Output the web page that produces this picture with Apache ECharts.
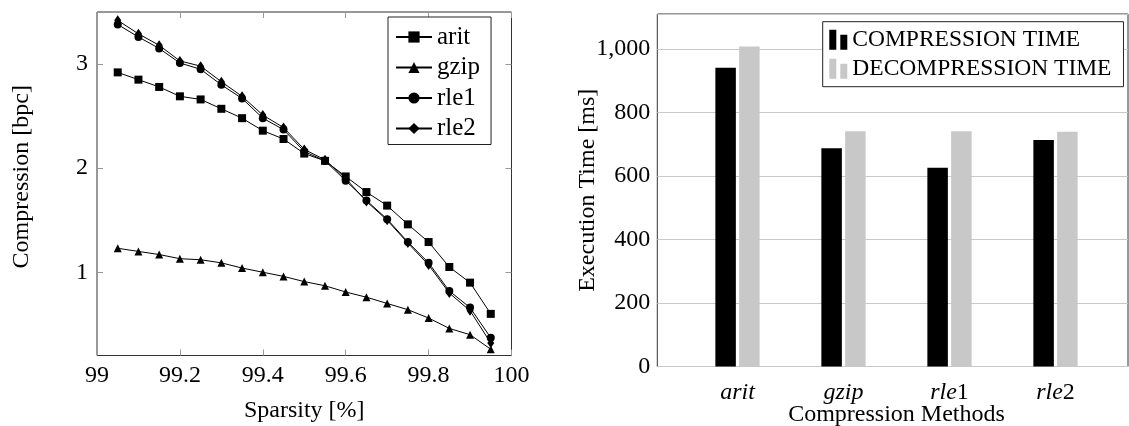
<!DOCTYPE html>
<html>
<head>
<meta charset="utf-8">
<script src="https://cdn.jsdelivr.net/npm/echarts@6/dist/echarts.min.js"></script>
<style>
  html, body { margin: 0; padding: 0; background: #fff; }
  #chart { width: 1129px; height: 426px; }
</style>
</head>
<body>
<div id="chart"></div>
<script>
// 左图：稀疏度 vs 压缩率
const sparsity = [99.05, 99.10, 99.15, 99.20, 99.25, 99.30, 99.35, 99.40, 99.45, 99.50,
  99.55, 99.60, 99.65, 99.70, 99.75, 99.80, 99.85, 99.90, 99.95]
const arit = [2.92, 2.85, 2.78, 2.69, 2.66, 2.57, 2.48, 2.36, 2.28, 2.14, 2.07, 1.92, 1.77, 1.64, 1.46, 1.29, 1.05, 0.90, 0.60]
const gzip = [1.23, 1.20, 1.17, 1.13, 1.12, 1.09, 1.04, 1.00, 0.96, 0.91, 0.87, 0.81, 0.76, 0.70, 0.64, 0.56, 0.46, 0.40, 0.26]
const rle1 = [3.38, 3.26, 3.15, 3.01, 2.95, 2.80, 2.67, 2.48, 2.37, 2.16, 2.07, 1.88, 1.69, 1.51, 1.29, 1.09, 0.82, 0.66, 0.37]
const rle2 = [3.42, 3.29, 3.18, 3.03, 2.98, 2.83, 2.69, 2.51, 2.39, 2.18, 2.08, 1.90, 1.68, 1.50, 1.28, 1.07, 0.80, 0.63, 0.32]
const xTicks = [99, 99.2, 99.4, 99.6, 99.8, 100]
const yTicks = [1, 2, 3]

// 右图：执行时间
const methods = ['arit', 'gzip', 'rle1', 'rle2']
const compressionTime = [941, 687, 626, 713]
const decompressionTime = [1008, 741, 741, 739]

const FONT = "'Liberation Serif', 'Times New Roman', serif"
const tickStyle = { inside: true, length: 6, lineStyle: { color: '#999' } }

const toPairs = (ys) => sparsity.map((x, i) => [x, ys[i]])

const lineSeries = (name, data, symbol, size) => ({
  name,
  type: 'line',
  xAxisIndex: 0,
  yAxisIndex: 0,
  data: toPairs(data),
  symbol,
  symbolSize: size,
  showSymbol: true,
  color: '#000',
  lineStyle: { width: 1, color: '#000' },
  itemStyle: { color: '#000' }
})

const chart = echarts.init(document.getElementById('chart'))
chart.setOption({
  animation: false,
  textStyle: { fontFamily: FONT },
  grid: [
    { left: 97, top: 12, width: 414.5, height: 343.5, show: true, borderColor: '#333', borderWidth: 1, outerBoundsMode: 'none' },
    { left: 657.3, top: 14, width: 470.7, height: 352.5, show: true, borderColor: '#333', borderWidth: 1, outerBoundsMode: 'none' },
    { left: 684.5, top: 14, width: 424, height: 352.5, outerBoundsMode: 'none' }
  ],
  legend: [
    {
      data: ['arit', 'gzip', 'rle1', 'rle2'],
      orient: 'vertical',
      left: 388,
      top: 17,
      itemWidth: 36,
      itemHeight: 14,
      itemGap: 4.5,
      padding: [7, 11, 3, 7],
      backgroundColor: '#fff',
      borderColor: '#222',
      borderWidth: 1,
      textStyle: { fontFamily: FONT, fontSize: 25, lineHeight: 26, color: '#000' }
    },
    {
      data: ['COMPRESSION TIME', 'DECOMPRESSION TIME'],
      orient: 'vertical',
      left: 822.7,
      top: 21.7,
      itemWidth: 18,
      itemHeight: 20,
      itemGap: 5,
      padding: [6, 12, 6, 6.6],
      backgroundColor: '#fff',
      borderColor: '#222',
      borderWidth: 1,
      icon: 'path://M0,0H7V20H0Z M11,5H18V20H11Z',
      textStyle: { fontFamily: FONT, fontSize: 23.5, lineHeight: 24, color: '#000' }
    }
  ],
  xAxis: [
    {
      type: 'value', gridIndex: 0, position: 'bottom', min: 99, max: 100,
      axisLine: { show: false },
      axisTick: Object.assign({ customValues: xTicks }, tickStyle),
      axisLabel: { customValues: xTicks, fontFamily: FONT, fontSize: 24, color: '#000', margin: 8 },
      splitLine: { show: false },
      name: 'Sparsity [%]', nameLocation: 'middle', nameGap: 43, nameMoveOverlap: false,
      nameTextStyle: { fontFamily: FONT, fontSize: 24, color: '#000' }
    },
    {
      type: 'value', gridIndex: 0, position: 'top', min: 99, max: 100,
      axisLine: { show: false },
      axisTick: Object.assign({ customValues: xTicks }, tickStyle),
      axisLabel: { show: false },
      splitLine: { show: false }
    },
    {
      type: 'value', gridIndex: 1, show: false, min: 0, max: 1
    },
    {
      type: 'category', gridIndex: 2, data: methods,
      axisLine: { show: false },
      axisTick: { show: false },
      axisLabel: {
        margin: 14,
        formatter: (v) => {
          const m = v.match(/^(\D+)(\d*)$/)
          return '{i|' + m[1] + '}' + (m[2] ? '{n|' + m[2] + '}' : '')
        },
        rich: {
          i: { fontFamily: FONT, fontStyle: 'italic', fontSize: 24, color: '#000' },
          n: { fontFamily: FONT, fontSize: 24, color: '#000' }
        }
      },
      name: 'Compression Methods', nameLocation: 'middle', nameGap: 36, nameMoveOverlap: false,
      nameTextStyle: { fontFamily: FONT, fontSize: 24, color: '#000' }
    }
  ],
  yAxis: [
    {
      type: 'value', gridIndex: 0, position: 'left', min: 0.2, max: 3.5,
      axisLine: { show: false },
      axisTick: Object.assign({ customValues: yTicks }, tickStyle),
      axisLabel: { customValues: yTicks, fontFamily: FONT, fontSize: 24, color: '#000', margin: 9 },
      splitLine: { show: false },
      name: 'Compression [bpc]', nameLocation: 'middle', nameGap: 63, nameMoveOverlap: false,
      nameTextStyle: { fontFamily: FONT, fontSize: 24, color: '#000', padding: [0, 0, 0, 14] }
    },
    {
      type: 'value', gridIndex: 0, position: 'right', min: 0.2, max: 3.5,
      axisLine: { show: false },
      axisTick: Object.assign({ customValues: yTicks }, tickStyle),
      axisLabel: { show: false },
      splitLine: { show: false }
    },
    {
      type: 'value', gridIndex: 1, min: 0, max: 1110, interval: 200,
      axisLine: { show: false },
      axisTick: { show: false },
      axisLabel: {
        fontFamily: FONT, fontSize: 24, color: '#000', margin: 7,
        formatter: (v) => (v % 200 === 0 ? v.toLocaleString('en-US') : '')
      },
      splitLine: { show: true, lineStyle: { color: '#c8c8c8', width: 1 } },
      name: 'Execution Time [ms]', nameLocation: 'middle', nameGap: 58, nameMoveOverlap: false,
      nameTextStyle: { fontFamily: FONT, fontSize: 24, color: '#000' }
    },
    {
      type: 'value', gridIndex: 2, min: 0, max: 1110, show: false
    }
  ],
  series: [
    lineSeries('arit', arit, 'rect', 8),
    lineSeries('gzip', gzip, 'triangle', 8),
    lineSeries('rle1', rle1, 'circle', 8),
    lineSeries('rle2', rle2, 'diamond', [7, 10]),
    {
      name: 'COMPRESSION TIME',
      type: 'bar',
      xAxisIndex: 3,
      yAxisIndex: 3,
      data: compressionTime,
      barWidth: 20.5,
      barGap: '16%',
      itemStyle: { color: '#000' }
    },
    {
      name: 'DECOMPRESSION TIME',
      type: 'bar',
      xAxisIndex: 3,
      yAxisIndex: 3,
      data: decompressionTime,
      barWidth: 20.5,
      barGap: '16%',
      itemStyle: { color: '#c8c8c8' }
    }
  ]
})
</script>
</body>
</html>
